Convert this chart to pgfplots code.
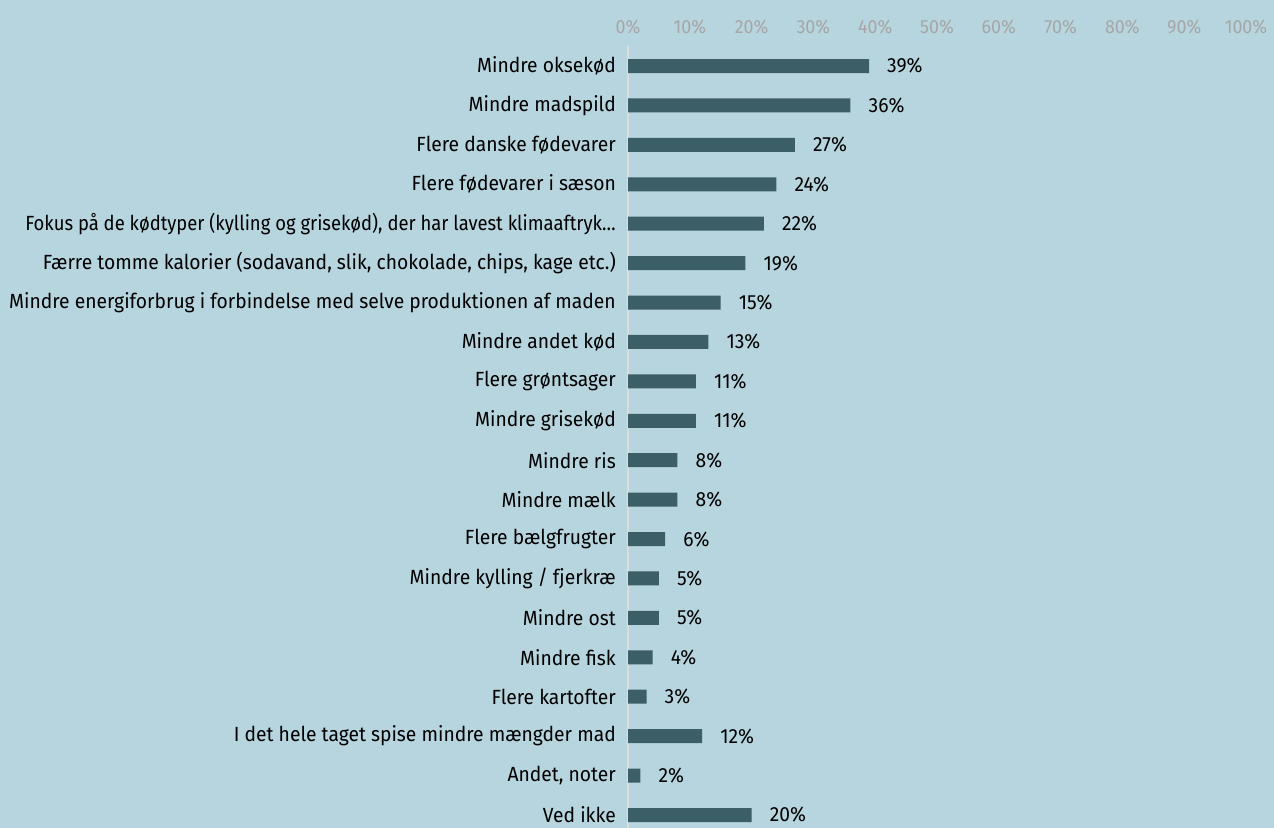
\documentclass[border=0pt]{standalone}
\usepackage{fontspec}
\setmainfont[FakeStretch=0.94]{Fira Sans}
\newfontfamily\narrowfont[FakeStretch=0.9]{Fira Sans}
\usepackage{pgfplots}
\pgfplotsset{compat=1.18}
\definecolor{bg}{HTML}{B7D5DE}
\definecolor{barc}{HTML}{3B5E67}
\definecolor{tickc}{HTML}{A6A6A6}
\definecolor{axc}{HTML}{DCDCDC}
\begin{document}
\begin{tikzpicture}
\path[use as bounding box, fill=bg] (0,0) rectangle (1274bp,-828bp);
\begin{axis}[
  at={(628bp,-46.3bp)}, anchor=north west,
  width=618bp, height=788.4bp, scale only axis,
  xmin=0, xmax=100, ymin=-0.5, ymax=19.5,
  y dir=reverse,
  xbar, bar width=14bp,
  /pgf/number format/assume math mode=true,
  separate axis lines,
  axis x line*=top, x axis line style={draw=none},
  axis y line*=left, y axis line style={draw=axc, line width=2bp},
  major tick length=0pt,
  xtick={0,10,...,100},
  xticklabel={\pgfmathprintnumber{\tick}\%},
  xticklabel style={font=\fontsize{19bp}{22bp}\selectfont, text=tickc, inner sep=0pt, yshift=12bp},
  ytick={0,...,19},
  yticklabels={Mindre oksekød, Mindre madspild, Flere danske fødevarer, Flere fødevarer i sæson,
    {\narrowfont Fokus på de kødtyper (kylling og grisekød), der har lavest klimaaftryk…},
    {Færre tomme kalorier (sodavand, slik, chokolade, chips, kage etc.)},
    Mindre energiforbrug i forbindelse med selve produktionen af maden,
    Mindre andet kød, Flere grøntsager, Mindre grisekød, Mindre ris, Mindre mælk,
    Flere bælgfrugter, Mindre kylling / fjerkræ, Mindre ost, Mindre fisk, Flere kartofter,
    I det hele taget spise mindre mængder mad, {Andet, noter}, Ved ikke},
  yticklabel style={font=\fontsize{20.5bp}{24bp}\selectfont, text=black, inner sep=0pt, xshift=-12bp},
  nodes near coords={\pgfmathprintnumber{\pgfplotspointmeta}\%},
  nodes near coords style={font=\fontsize{20.5bp}{24bp}\selectfont, text=black, anchor=west, inner sep=0pt, xshift=18bp},
]
\addplot[fill=barc, draw=none] coordinates {
(39,0) (36,1) (27,2) (24,3) (22,4) (19,5) (15,6) (13,7) (11,8) (11,9)
(8,10) (8,11) (6,12) (5,13) (5,14) (4,15) (3,16) (12,17) (2,18) (20,19)};
\end{axis}
\end{tikzpicture}
\end{document}
